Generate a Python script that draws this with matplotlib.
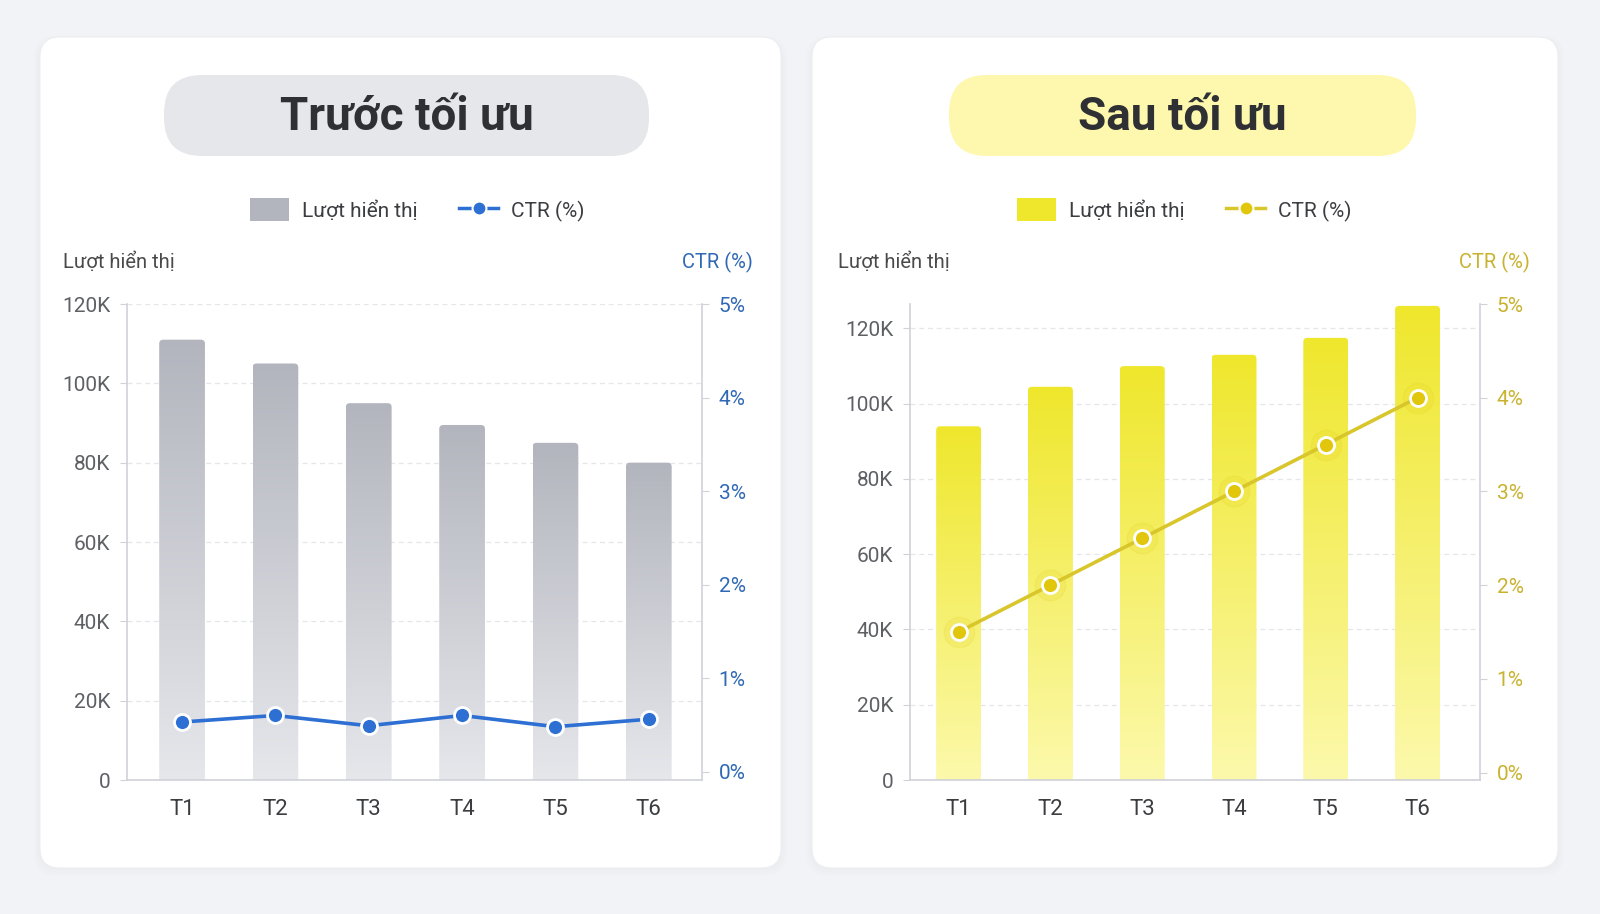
import matplotlib

matplotlib.use("Agg")
import matplotlib.pyplot as plt
import numpy as np
from matplotlib.patches import FancyBboxPatch, Patch
from matplotlib.lines import Line2D
from matplotlib.colors import LinearSegmentedColormap

plt.rcParams["font.family"] = ["Roboto", "DejaVu Sans"]

W, H = 1600, 914

months = ["T1", "T2", "T3", "T4", "T5", "T6"]
views_before = [111000, 105000, 95000, 89500, 85000, 80000]
ctr_before = [0.53, 0.60, 0.49, 0.60, 0.48, 0.56]
views_after = [94000, 104500, 110000, 113000, 117500, 126000]
ctr_after = [1.5, 2.0, 2.5, 3.0, 3.5, 4.0]

left_ticks = [0, 20000, 40000, 60000, 80000, 100000, 120000]
left_labels = ["0", "20K", "40K", "60K", "80K", "100K", "120K"]
right_ticks = [0, 1, 2, 3, 4, 5]
right_labels = ["0%", "1%", "2%", "3%", "4%", "5%"]

fig = plt.figure(figsize=(W / 100, H / 100), dpi=100, facecolor="#f2f3f6")

# full-figure axes in pixel units for cards, pills, labels
bg = fig.add_axes([0, 0, 1, 1], zorder=0)
bg.set_xlim(0, W)
bg.set_ylim(H, 0)
bg.axis("off")


def rbox(x0, y0, x1, y1, r, **kw):
    p = FancyBboxPatch((x0, y0), x1 - x0, y1 - y0,
                       boxstyle=f"round,pad=0,rounding_size={r}", **kw)
    bg.add_patch(p)


# cards with a soft shadow
for x0, x1 in [(40, 781), (812, 1558)]:
    for i, a in enumerate([0.025, 0.02, 0.015]):
        rbox(x0 - 2 - i * 2, 37 - i * 2 + 3, x1 + 2 + i * 2, 868 + 2 + i * 3, 22,
             facecolor="#9aa0ab", alpha=a, edgecolor="none")
    rbox(x0, 37, x1, 868, 20, facecolor="white", edgecolor="#eceef2", lw=0.8)

panels = [
    dict(title="Trước tối ưu", pill=(164, 75, 649, 156), pill_color="#e6e7eb",
         views=views_before, ctr=ctr_before,
         bar_top="#b3b5be", bar_bot="#e6e7eb",
         line="#2d6fd2", marker="#2d6fd2", accent="#2f68b6", glow=False,
         ax_rect=(127, 304, 702, 780), ylim=120000, xlim=(-0.59, 5.57),
         ctr_lo=-0.09, ylab_x=63, ctr_x=753, legend_cx=417),
    dict(title="Sau tối ưu", pill=(949, 75, 1416, 156), pill_color="#fdf8ad",
         views=views_after, ctr=ctr_after,
         bar_top="#efe72c", bar_bot="#fcf9ac",
         line="#d8c62c", marker="#e1c60c", accent="#c9b22e", glow=True,
         ax_rect=(910, 304, 1480, 780), ylim=126500, xlim=(-0.53, 5.68),
         ctr_lo=-0.08, ylab_x=838, ctr_x=1530, legend_cx=1184),
]

x = np.arange(len(months))

for p in panels:
    x0, y0, x1, y1 = p["pill"]
    rbox(x0, y0, x1, y1, 38, facecolor=p["pill_color"], edgecolor="none")
    bg.text((x0 + x1) / 2, (y0 + y1) / 2 + 2, p["title"], ha="center", va="center",
            fontsize=33, fontweight="bold", color="#2f3033")

    bg.text(p["ylab_x"], 262, "Lượt hiển thị", ha="left", va="center",
            fontsize=14.5, color="#4a4a4a")
    bg.text(p["ctr_x"], 262, "CTR (%)", ha="right", va="center",
            fontsize=14.5, color=p["accent"])

    ax0, ay0, ax1, ay1 = p["ax_rect"]
    ax = fig.add_axes([ax0 / W, 1 - ay1 / H, (ax1 - ax0) / W, (ay1 - ay0) / H],
                      zorder=2)
    ax.patch.set_alpha(0)

    # data units per pixel, for round bar tops
    xupp = (p["xlim"][1] - p["xlim"][0]) / (ax1 - ax0)
    yupp = p["ylim"] / (ay1 - ay0)
    r = 4 * xupp

    cmap = LinearSegmentedColormap.from_list("g", [p["bar_bot"], p["bar_top"]])
    grad = np.linspace(0, 1, 256).reshape(-1, 1)
    bars = ax.bar(x, p["views"], width=0.49, color="none", edgecolor="none", zorder=2)
    for b in bars:
        clip = FancyBboxPatch((b.get_x(), -6 * yupp), b.get_width(),
                              b.get_height() + 6 * yupp,
                              boxstyle=f"round,pad=0,rounding_size={r}",
                              mutation_aspect=yupp / xupp,
                              transform=ax.transData, facecolor="none",
                              edgecolor="none")
        ax.add_patch(clip)
        im = ax.imshow(grad, cmap=cmap, origin="lower", aspect="auto",
                       extent=(b.get_x(), b.get_x() + b.get_width(), 0, b.get_height()),
                       zorder=2)
        im.set_clip_path(clip)
    ax.set_xlim(*p["xlim"])
    ax.set_ylim(0, p["ylim"])

    ax.set_yticks(left_ticks)
    ax.set_yticklabels(left_labels)
    ax.set_xticks(x)
    ax.set_xticklabels(months)
    ax.grid(axis="y", color="#e4e6ea", linestyle=(0, (4, 3)), lw=0.9, zorder=0)
    ax.set_axisbelow(True)
    for s in ["top", "right"]:
        ax.spines[s].set_visible(False)
    for s in ["left", "bottom"]:
        ax.spines[s].set_color("#cfd2d8")
        ax.spines[s].set_linewidth(1.2)
    ax.tick_params(axis="y", labelsize=15, labelcolor="#5f6065", color="#cfd2d8",
                   length=5, pad=7)
    ax.tick_params(axis="x", labelsize=16, labelcolor="#3c3d40", length=0, pad=14)

    ax2 = ax.twinx()
    ax2.set_zorder(3)
    ax2.set_ylim(p["ctr_lo"], 5)
    ax2.set_yticks(right_ticks)
    ax2.set_yticklabels(right_labels)
    for s in ["top", "left", "bottom"]:
        ax2.spines[s].set_visible(False)
    ax2.spines["right"].set_color("#cfd2d8")
    ax2.spines["right"].set_linewidth(1.2)
    ax2.tick_params(axis="y", labelsize=15, labelcolor=p["accent"], color="#cfd2d8",
                    length=5, pad=7)

    ax2.plot(x, p["ctr"], color=p["line"], lw=2.6, zorder=3, solid_capstyle="round")
    if p["glow"]:
        ax2.plot(x, p["ctr"], linestyle="none", marker="o", markersize=22,
                 color=p["marker"], alpha=0.12, zorder=3)
    ax2.plot(x, p["ctr"], linestyle="none", marker="o", markersize=11.5,
             markerfacecolor=p["marker"], markeredgecolor="white",
             markeredgewidth=2, zorder=4)

    handles = [
        Patch(facecolor=p["bar_top"], edgecolor="none"),
        Line2D([0], [0], color=p["line"], lw=2.5, marker="o", markersize=10,
               markerfacecolor=p["marker"], markeredgecolor="white", markeredgewidth=1.5),
    ]
    fig.legend(handles, ["Lượt hiển thị", "CTR (%)"], loc="center",
               bbox_to_anchor=(p["legend_cx"] / W, 1 - 210 / H), ncol=2,
               frameon=False, fontsize=15, handlelength=1.9, handleheight=1.3,
               columnspacing=2.0, handletextpad=0.6, labelcolor="#3c3d40")

fig.savefig("out.png", dpi=100, facecolor=fig.get_facecolor())
